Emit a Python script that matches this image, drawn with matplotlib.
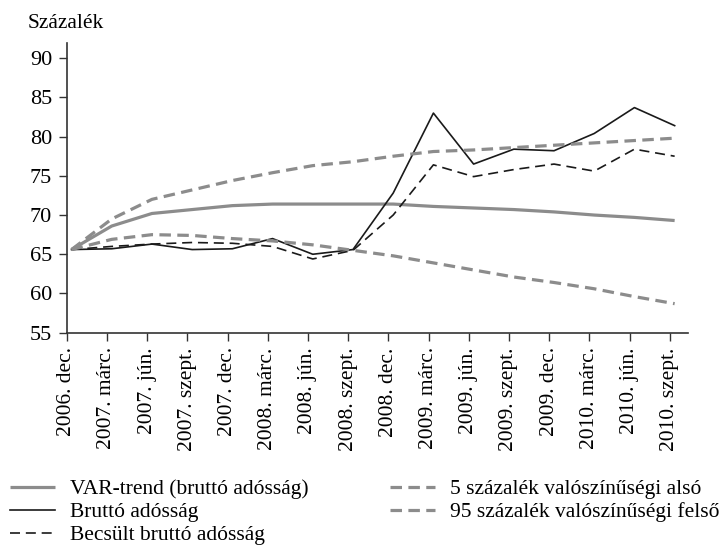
import matplotlib
matplotlib.use("Agg")
import matplotlib.pyplot as plt
import numpy as np

categories = ["2006. dec.", "2007. márc.", "2007. jún.", "2007. szept.", "2007. dec.",
              "2008. márc.", "2008. jún.", "2008. szept.", "2008. dec.", "2009. márc.",
              "2009. jún.", "2009. szept.", "2009. dec.", "2010. márc.", "2010. jún.",
              "2010. szept."]

var_trend = [65.6, 68.6, 70.2, 70.7, 71.2, 71.4, 71.4, 71.4, 71.4, 71.1, 70.9, 70.7, 70.4, 70.0, 69.7, 69.3]
brutto = [65.6, 65.7, 66.3, 65.6, 65.7, 67.0, 65.0, 65.6, 72.8, 83.0, 76.5, 78.4, 78.2, 80.4, 83.7, 81.4]
becsult = [65.6, 66.0, 66.3, 66.5, 66.4, 66.0, 64.4, 65.5, 70.0, 76.4, 74.9, 75.8, 76.5, 75.6, 78.4, 77.5]
also5 = [65.6, 66.9, 67.5, 67.4, 67.0, 66.7, 66.2, 65.5, 64.8, 63.9, 63.0, 62.1, 61.4, 60.6, 59.6, 58.7]
felso95 = [65.6, 69.5, 72.0, 73.2, 74.4, 75.4, 76.3, 76.8, 77.5, 78.1, 78.3, 78.6, 78.9, 79.2, 79.5, 79.8]

labels = ["VAR-trend (bruttó adósság)", "Bruttó adósság", "Becsült bruttó adósság",
          "5 százalék valószínűségi alsó", "95 százalék valószínűségi felső"]
yticks = [55, 60, 65, 70, 75, 80, 85, 90]

plt.rcParams['font.family'] = ['Liberation Serif', 'DejaVu Serif']

GRAY = "#8c8c8c"
DARK = "#1a1a1a"
W, H = 725, 557

fig = plt.figure(figsize=(7.25, 5.57), dpi=100)
ax = fig.add_axes([0.092, 0.4027, 0.8574, 0.5196])

x = np.arange(len(categories)) + 0.12

l1, = ax.plot(x, var_trend, color=GRAY, lw=2.3, solid_capstyle='butt')
l2, = ax.plot(x, brutto, color=DARK, lw=1.2)
l3, = ax.plot(x, becsult, color=DARK, lw=1.2, dashes=(6, 3.5))
l4, = ax.plot(x, also5, color=GRAY, lw=2.3, dashes=(3.6, 2.0))
l5, = ax.plot(x, felso95, color=GRAY, lw=2.3, dashes=(3.6, 2.0))

ax.set_xlim(0, 15.46)
ax.set_ylim(55, 91.9)
ax.set_yticks(yticks)
ax.set_xticks(np.arange(len(categories)))
ax.set_xticklabels(categories, rotation=90, fontsize=15.5)
ax.tick_params(axis='y', labelsize=16, length=5.5, width=1, color="#333333", pad=5)
ax.tick_params(axis='x', length=5.5, width=1, color="#333333", pad=5)
for s in ['top', 'right']:
    ax.spines[s].set_visible(False)
for s in ['left', 'bottom']:
    ax.spines[s].set_color("#333333")
    ax.spines[s].set_linewidth(1.2)

fig.text(28/W, 1-28/H, "Százalék", fontsize=15.5, va='baseline', ha='left')

common = dict(loc='upper left', frameon=False, fontsize=15.5, handlelength=2.1,
              handletextpad=0.7, labelspacing=0.14, borderaxespad=0, borderpad=0)
leg1 = fig.legend([l1, l2, l3], labels[:3], bbox_to_anchor=(10/W, 1-479/H), **common)
leg2 = fig.legend([l4, l5], labels[3:], bbox_to_anchor=(390/W, 1-479/H), **common)

fig.savefig("out.png", dpi=100)
